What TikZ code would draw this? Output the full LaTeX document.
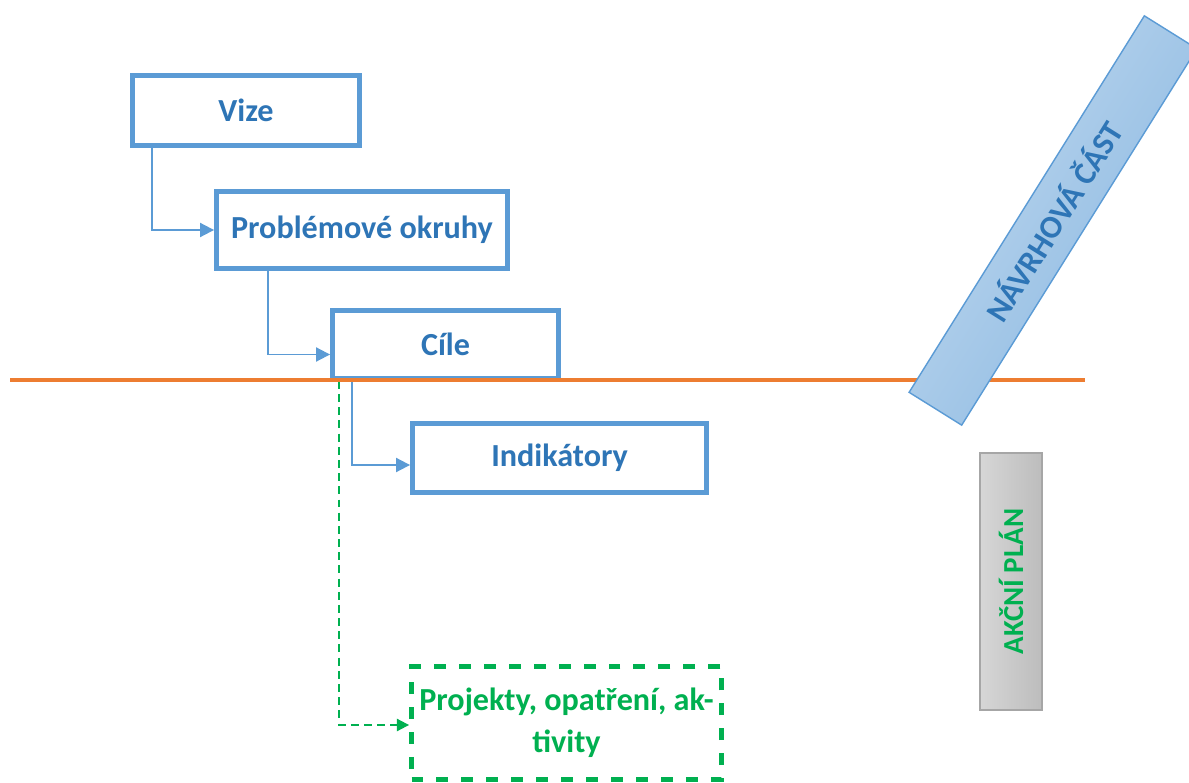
\documentclass[tikz,border=0pt]{standalone}
\usepackage{fontspec}
\setmainfont{Carlito}
\usetikzlibrary{arrows.meta}
\usetikzlibrary{positioning}

\definecolor{boxblue}{HTML}{5B9BD5}
\definecolor{textblue}{HTML}{2E75B6}
\definecolor{plangreen}{HTML}{00B050}
\definecolor{lineorange}{HTML}{ED7D31}

\begin{document}
\begin{tikzpicture}[x=0.02cm, y=-0.02cm,
        box/.style={rectangle, draw=boxblue, line width=2.8pt, fill=white, text=textblue, font=\fontsize{18.3}{22}\selectfont\bfseries},
        link/.style={draw=boxblue, line width=1.1pt, -{Triangle[length=8pt,width=8pt]}}]
        \useasboundingbox (0,0) rectangle (1189,783);

        \node[box, minimum width=4.54cm, minimum height=1.40cm] (vize) at (246, 110.5) {Vize};
        \node[box, minimum width=5.82cm, minimum height=1.54cm] (okruhy) at (362, 230) {Problémové okruhy};
        \node[box, minimum width=4.52cm, minimum height=1.36cm] (cile) at (445.5, 344.5) {Cíle};
        \node[box, minimum width=5.88cm, minimum height=1.38cm] (indikatory) at (559.5, 458) {Indikátory};
        \node[rectangle, draw=plangreen, line width=2.8pt, dash pattern=on 6.8pt off 7.4pt, text=plangreen,
              align=center, font=\fontsize{18.3}{24}\selectfont\bfseries,
              minimum width=6.2cm, minimum height=2.26cm] (projekty) at (566.5, 723) {Projekty, opatření, ak-\\tivity};

        \draw[link] ([xshift=0.44cm]vize.south west) |- (okruhy.west);
        \draw[link] ([xshift=1.08cm]okruhy.south west) |- ([yshift=-0.2cm]cile.west);
        \draw[link] ([xshift=0.44cm]cile.south west) |- ([yshift=-0.14cm]indikatory.west);
        \draw[draw=plangreen, line width=1.1pt, dash pattern=on 4.5pt off 3pt, -{Triangle[length=7pt,width=7pt]}]
              ([xshift=0.18cm]cile.south west) |- ([yshift=-0.04cm]projekty.west);

        \draw[lineorange, line width=2.2pt] (10, 380) -- (1085, 380);

        \node[rectangle, rotate=58, draw=boxblue, line width=0.8pt, top color=boxblue!38, bottom color=boxblue!72, shading angle=58,
              minimum width=8.88cm, minimum height=1.24cm, text=textblue,
              font=\fontsize{18.3}{22}\selectfont\bfseries] (navrh) at (1053, 220.5) {NÁVRHOVÁ ČÁST};
        \node[rectangle, rotate=90, draw=black!35, line width=0.8pt, left color=black!16, right color=black!26,
              minimum width=5.14cm, minimum height=1.24cm, text=plangreen,
              font=\fontsize{16.5}{20}\selectfont\bfseries] (akcni) at (1011, 581.5) {AKČNÍ PLÁN};
\end{tikzpicture}
\end{document}
